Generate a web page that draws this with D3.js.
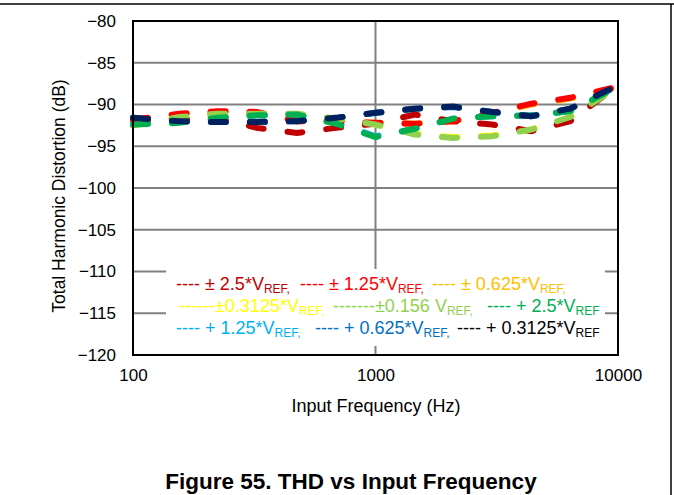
<!DOCTYPE html>
<html>
<head>
<meta charset="utf-8">
<script src="https://cdn.jsdelivr.net/npm/d3@7"></script>
<style>
  html, body { margin: 0; padding: 0; background: #fff; }
  svg { display: block; font-family: "Liberation Sans", Arial, sans-serif; }
</style>
</head>
<body>
<svg id="chart" width="674" height="495"></svg>
<script>
// ---------- data ----------
const freqs = [100, 155, 223, 324, 474, 687, 1000, 1450, 2090, 3030, 4390, 6350, 9500];

const seriesNames = [
  "± 0.625*VREF", "±0.3125*VREF", "+ 1.25*VREF", "+ 0.625*VREF",
  "± 2.5*VREF", "± 1.25*VREF", "±0.156 VREF", "+ 2.5*VREF", "+ 0.3125*VREF"
];
const orange625   = [-91.9, -91.2, -90.9, -91.0, -92.0, -92.0, -92.2, -92.3, -92.0, -91.1, -90.0, -89.3, -88.1];
const yellow3125  = [-92.5, -91.6, -91.2, -91.2, -91.2, -91.7, -92.4, -93.5, -93.9, -93.7, -93.0, -91.5, -88.3];
const ltBlue125   = [-92.3, -92.1, -91.6, -91.3, -91.2, -92.2, -93.8, -92.9, -91.7, -91.4, -91.3, -90.8, -88.2];
const blue0625    = [-91.6, -92.0, -92.1, -92.1, -92.0, -91.6, -91.0, -90.5, -90.3, -90.9, -91.4, -90.5, -88.1];
const darkRed25   = [-91.8, -91.8, -91.6, -92.8, -93.4, -92.8, -92.3, -91.2, -92.0, -92.4, -93.2, -92.0, -88.2];
const red125      = [-91.8, -91.1, -90.8, -90.9, -92.0, -92.0, -92.2, -92.3, -92.0, -91.0, -89.9, -89.2, -88.0];
const ltGreen0156 = [-92.5, -91.5, -91.1, -91.1, -91.1, -91.7, -92.4, -93.6, -94.0, -93.8, -93.0, -91.5, -88.3];
const green25     = [-92.4, -92.2, -91.6, -91.3, -91.2, -92.3, -93.9, -92.9, -91.7, -91.4, -91.3, -90.8, -88.2];
const navy03125   = [-91.6, -92.0, -92.1, -92.1, -92.0, -91.6, -91.0, -90.5, -90.25, -90.9, -91.4, -90.5, -88.0];

const seriesValues = [orange625, yellow3125, ltBlue125, blue0625, darkRed25, red125, ltGreen0156, green25, navy03125];
const seriesColors = ["#FFC000", "#FFFF00", "#00B0F0", "#0070C0", "#C00000", "#FF0000", "#92D050", "#00B050", "#002060"];

const yTicks = [-80, -85, -90, -95, -100, -105, -110, -115, -120];
const xTicks = [100, 1000, 10000];

// legend entries: main text, subscript, colour
const legendText  = ["---- ± 2.5*V", "---- ± 1.25*V", "---- ± 0.625*V",
                     "------±0.3125*V", "-------±0.156 V", "---- + 2.5*V",
                     "---- + 1.25*V", "---- + 0.625*V", "---- + 0.3125*V"];
const legendSub   = ["REF,", "REF,", "REF,", "REF,", "REF,", "REF", "REF,", "REF,", "REF"];
const legendColor = ["#C00000", "#FF0000", "#FFC000", "#FFFF00", "#92D050", "#00B050", "#00B0F0", "#0070C0", "#000000"];

// ---------- layout ----------
const legendX = [176, 300, 432, 179, 333, 487, 176, 315, 457];
const legendRowY = [290, 312, 334];
const plot = { left: 133, right: 618, top: 21, bottom: 355 };

const svg = d3.select("#chart");

// outer frame lines
svg.append("line").attr("x1", 0).attr("x2", 674).attr("y1", 4).attr("y2", 4)
  .attr("stroke", "#000").attr("stroke-width", 1.5);
svg.append("line").attr("x1", 671).attr("x2", 671).attr("y1", 4).attr("y2", 495)
  .attr("stroke", "#000").attr("stroke-width", 1.5);

const x = d3.scaleLog().domain([100, 10000]).range([plot.left, plot.right]);
const y = d3.scaleLinear().domain([-120, -80]).range([plot.bottom, plot.top]);

// gridlines
const grid = svg.append("g");
grid.selectAll("line.h").data(yTicks).join("line")
  .attr("x1", plot.left).attr("x2", plot.right)
  .attr("y1", d => y(d)).attr("y2", d => y(d))
  .attr("stroke", "#808080").attr("stroke-width", 2);
grid.append("line")
  .attr("x1", x(1000)).attr("x2", x(1000))
  .attr("y1", plot.top).attr("y2", plot.bottom)
  .attr("stroke", "#808080").attr("stroke-width", 2);

// data lines
const line = d3.line().x((d, i) => x(freqs[i])).y(d => y(d));
svg.append("g").selectAll("path").data(seriesValues).join("path")
  .attr("d", d => line(d))
  .attr("fill", "none")
  .attr("stroke", (d, i) => seriesColors[i])
  .attr("stroke-width", 6)
  .attr("stroke-linecap", "round")
  .attr("stroke-dasharray", "15,24");

// legend background
svg.append("rect").attr("x", 166).attr("y", 269).attr("width", 439).attr("height", 77)
  .attr("fill", "#fff");

// legend text
const lg = svg.append("g").attr("font-size", 18);
legendText.forEach((t, i) => {
  const tx = lg.append("text")
    .attr("x", legendX[i]).attr("y", legendRowY[Math.floor(i / 3)])
    .attr("fill", legendColor[i]);
  tx.append("tspan").text(t);
  tx.append("tspan").attr("font-size", 12).attr("dy", 3).text(legendSub[i]);
});

// plot border
svg.append("rect")
  .attr("x", plot.left).attr("y", plot.top)
  .attr("width", plot.right - plot.left).attr("height", plot.bottom - plot.top)
  .attr("fill", "none").attr("stroke", "#000").attr("stroke-width", 2);

// axes
const yAxis = d3.axisLeft(y).tickValues(yTicks).tickSize(0).tickPadding(17)
  .tickFormat(d => d3.format("d")(d).replace("-", "−"));
svg.append("g").attr("transform", `translate(${plot.left},0)`).call(yAxis)
  .call(g => g.select(".domain").remove())
  .call(g => g.selectAll("text").attr("font-size", 17).attr("font-family", "Liberation Sans, Arial, sans-serif").attr("fill", "#000"));

const xAxis = d3.axisBottom(x).tickValues(xTicks).tickSize(0).tickPadding(14)
  .tickFormat(d3.format("d"));
svg.append("g").attr("transform", `translate(0,${plot.bottom})`).call(xAxis)
  .call(g => g.select(".domain").remove())
  .call(g => g.selectAll("text").attr("font-size", 17).attr("font-family", "Liberation Sans, Arial, sans-serif").attr("fill", "#000"));

// axis titles
svg.append("text").attr("x", 376).attr("y", 412).attr("text-anchor", "middle")
  .attr("font-size", 18).text("Input Frequency (Hz)");
svg.append("text").attr("transform", "translate(65,196) rotate(-90)")
  .attr("text-anchor", "middle").attr("font-size", 17.5).text("Total Harmonic Distortion (dB)");

// figure title
svg.append("text").attr("x", 351).attr("y", 489).attr("text-anchor", "middle")
  .attr("font-size", 22.5).attr("font-weight", "bold").text("Figure 55. THD vs Input Frequency");
</script>
</body>
</html>
